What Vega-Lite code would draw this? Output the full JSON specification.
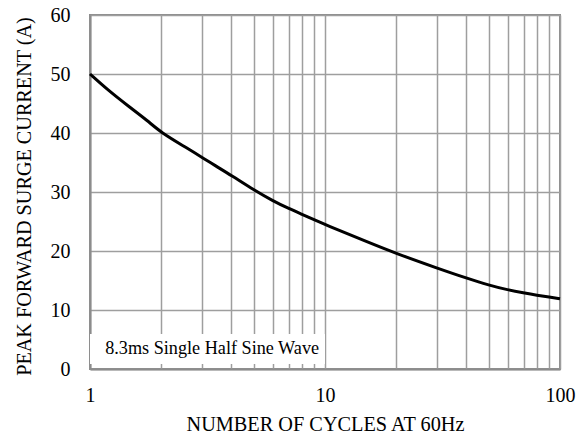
{
  "$schema": "https://vega.github.io/schema/vega-lite/v6.json",
  "width": 470,
  "height": 354,
  "autosize": "none",
  "padding": {"left": 90, "top": 15, "right": 27, "bottom": 67},
  "background": "white",
  "config": {
    "font": "Liberation Serif",
    "view": {"stroke": "#8c8c8c", "strokeWidth": 2},
    "text": {"font": "Liberation Serif"},
    "axis": {
      "labelFont": "Liberation Serif",
      "titleFont": "Liberation Serif",
      "labelFontSize": 20,
      "titleFontSize": 19,
      "labelColor": "black",
      "titleColor": "black",
      "titleFontWeight": "normal",
      "gridColor": "#9e9e9e",
      "gridWidth": 1.5,
      "gridOpacity": 1,
      "domainColor": "#8c8c8c",
      "domainWidth": 2,
      "ticks": false
    }
  },
  "datasets": {
    "curve": [
      {"cycles": 1, "current": 50},
      {"cycles": 1.19, "current": 47.3},
      {"cycles": 1.45, "current": 44.6},
      {"cycles": 1.77, "current": 42.0},
      {"cycles": 2, "current": 40.1},
      {"cycles": 2.6, "current": 37.4},
      {"cycles": 3.1, "current": 35.5},
      {"cycles": 3.4, "current": 34.5},
      {"cycles": 4, "current": 32.8},
      {"cycles": 5, "current": 30.3},
      {"cycles": 6, "current": 28.5},
      {"cycles": 7, "current": 27.2},
      {"cycles": 8, "current": 26.2},
      {"cycles": 9, "current": 25.3},
      {"cycles": 10, "current": 24.5},
      {"cycles": 15, "current": 21.6},
      {"cycles": 20, "current": 19.6},
      {"cycles": 30, "current": 17.1},
      {"cycles": 40, "current": 15.4},
      {"cycles": 50, "current": 14.2},
      {"cycles": 60, "current": 13.4},
      {"cycles": 70, "current": 12.9},
      {"cycles": 80, "current": 12.5},
      {"cycles": 90, "current": 12.2},
      {"cycles": 100, "current": 11.9}
    ],
    "note": [
      {"x1": 1, "x2": 10, "y1": 0.85, "y2": 5.95, "tx": 1.16, "ty": 2.5, "label": "8.3ms Single Half Sine Wave"}
    ]
  },
  "layer": [
    {
      "data": {"name": "note"},
      "mark": {"type": "rect", "fill": "white", "stroke": null},
      "encoding": {
        "x": {"field": "x1", "type": "quantitative", "scale": {"type": "log", "domain": [1, 100]}},
        "x2": {"field": "x2"},
        "y": {"field": "y1", "type": "quantitative", "scale": {"domain": [0, 60]}},
        "y2": {"field": "y2"}
      }
    },
    {
      "data": {"name": "note"},
      "mark": {"type": "text", "align": "left", "baseline": "alphabetic", "fontSize": 18.2, "font": "Liberation Serif", "color": "black"},
      "encoding": {
        "x": {"field": "tx", "type": "quantitative"},
        "y": {"field": "ty", "type": "quantitative"},
        "text": {"field": "label"}
      }
    },
    {
      "data": {"name": "curve"},
      "mark": {"type": "line", "color": "black", "strokeWidth": 3, "interpolate": "basis"},
      "encoding": {
        "x": {
          "field": "cycles",
          "type": "quantitative",
          "scale": {"type": "log", "domain": [1, 100]},
          "axis": {
            "title": "NUMBER OF CYCLES AT 60Hz",
            "titleFontSize": 20.3,
            "values": [1, 2, 3, 4, 5, 6, 7, 8, 9, 10, 20, 30, 40, 50, 60, 70, 80, 90, 100],
            "labelExpr": "datum.value == 1 || datum.value == 10 || datum.value == 100 ? datum.value : ''",
            "labelPadding": 16,
            "titlePadding": 9,
            "labelFlush": false,
            "labelOverlap": false
          }
        },
        "y": {
          "field": "current",
          "type": "quantitative",
          "scale": {"domain": [0, 60]},
          "axis": {
            "title": "PEAK FORWARD SURGE CURRENT (A)",
            "titleFontSize": 20.2,
            "titleY": 181,
            "values": [0, 10, 20, 30, 40, 50, 60],
            "labelPadding": 20,
            "titlePadding": 16
          }
        }
      }
    }
  ]
}
